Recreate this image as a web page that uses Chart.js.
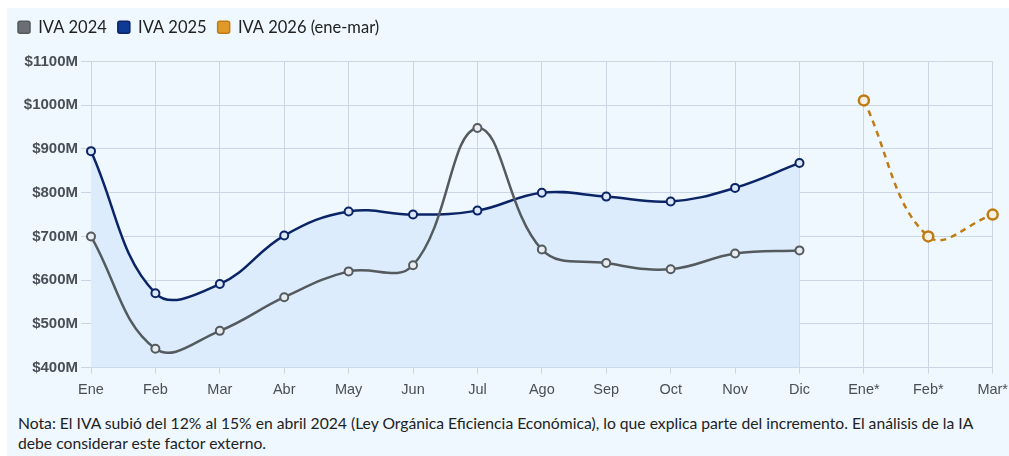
<!DOCTYPE html>
<html>
<head>
<meta charset="utf-8">
<script src="https://cdn.jsdelivr.net/npm/chart.js@4"></script>
<style>
  html, body { margin: 0; padding: 0; background: #ffffff; overflow: hidden; }
  .wrap { position: absolute; left: 7px; top: 8px; width: 1002px; height: 448px; background: #eef8fe; }
  .chart-box { position: absolute; left: 0; top: 0; width: 1009px; height: 399px; }
  .nota { position: absolute; left: 11px; top: 405px; width: 985px; font-family: Lato, "Noto Sans", sans-serif; font-size: 15.7px; line-height: 20px; color: #222; }
</style>
</head>
<body>
<div class="wrap">
  <div class="chart-box"><canvas id="ivaChart"></canvas></div>
  <div class="nota">Nota: El IVA subió del 12% al 15% en abril 2024 (Ley Orgánica Eficiencia Económica), lo que explica parte del incremento. El análisis de la IA debe considerar este factor externo.</div>
</div>
<script>
const months = ['Ene', 'Feb', 'Mar', 'Abr', 'May', 'Jun', 'Jul', 'Ago', 'Sep', 'Oct', 'Nov', 'Dic', 'Ene*', 'Feb*', 'Mar*'];
const iva2024 = [700, 443, 484, 561, 620, 634, 948, 670, 639, 625, 661, 668, null, null, null];
const iva2025 = [895, 570, 591, 702, 757, 750, 759, 800, 791, 780, 811, 868, null, null, null];
const iva2026 = [null, null, null, null, null, null, null, null, null, null, null, null, 1011, 700, 750];
const yTicks = [400, 500, 600, 700, 800, 900, 1000, 1100];

const grayColor = '#555a5e';
const navyColor = '#0b2466';
const orangeColor = '#c07c12';
const gridColor = '#cbd6e4';
const labelColor = '#4a4f55';
const legendBoxes = ['#6b6f73', '#0f3a94', '#e09a2a'];

// adds space between the legend and the plot
const legendMargin = {
    id: 'legendMargin',
    beforeInit: function (chart) {
        const fitValue = chart.legend.fit;
        chart.legend.fit = function fit() {
            fitValue.bind(chart.legend)();
            this.height += 16;
        };
    }
};

const ivaChart = document.getElementById('ivaChart');
if (ivaChart) {
    const ivaChartVar = new Chart(ivaChart, {
        type: 'line',
        plugins: [legendMargin],
        data: {
            labels: months,
            datasets: [
                {
                    label: 'IVA 2024',
                    data: iva2024,
                    borderColor: grayColor,
                    backgroundColor: legendBoxes[0],
                    borderWidth: 2.5,
                    tension: 0.4,
                    pointRadius: 4,
                    pointBorderWidth: 2,
                    pointBackgroundColor: '#e8ecef',
                    pointBorderColor: grayColor,
                    fill: false
                },
                {
                    label: 'IVA 2025',
                    data: iva2025,
                    borderColor: navyColor,
                    backgroundColor: '#dcecfd',
                    borderWidth: 2.5,
                    tension: 0.4,
                    pointRadius: 4,
                    pointBorderWidth: 2,
                    pointBackgroundColor: '#dce8f8',
                    pointBorderColor: navyColor,
                    fill: 'start'
                },
                {
                    label: 'IVA 2026 (ene-mar)',
                    data: iva2026,
                    borderColor: orangeColor,
                    backgroundColor: legendBoxes[2],
                    borderWidth: 2.5,
                    borderDash: [6, 5],
                    tension: 0.4,
                    pointRadius: 5,
                    pointBorderWidth: 2.5,
                    pointBackgroundColor: '#f4f0e6',
                    pointBorderColor: orangeColor,
                    fill: false
                }
            ]
        },
        options: {
            responsive: true,
            maintainAspectRatio: false,
            animation: false,
            layout: {
                padding: { left: 0, right: 0, top: 0, bottom: 0 }
            },
            plugins: {
                filler: { drawTime: 'beforeDatasetsDraw' },
                legend: {
                    display: true,
                    align: 'start',
                    labels: {
                        color: '#222',
                        boxWidth: 12,
                        boxHeight: 12,
                        padding: 11,
                        font: { family: 'Lato, "Noto Sans", sans-serif', size: 16.5 },
                        generateLabels: function (chart) {
                            return chart.data.datasets.map(function (ds, i) {
                                return {
                                    text: ds.label,
                                    fillStyle: legendBoxes[i],
                                    strokeStyle: ds.borderColor,
                                    lineWidth: 1.5,
                                    borderRadius: 2,
                                    fontColor: '#222',
                                    datasetIndex: i
                                };
                            });
                        }
                    }
                },
                tooltip: { enabled: false }
            },
            scales: {
                x: {
                    offset: false,
                    grid: { color: gridColor, drawTicks: true, tickLength: 6 },
                    border: { color: gridColor },
                    ticks: {
                        color: labelColor,
                        maxRotation: 0,
                        autoSkip: false,
                        padding: 8,
                        font: { family: '"Liberation Sans", Arial, sans-serif', size: 14.5 }
                    }
                },
                y: {
                    min: 400,
                    max: 1100,
                    grid: { color: gridColor, tickLength: 10 },
                    border: { color: gridColor },
                    afterBuildTicks: function (axis) {
                        axis.ticks = yTicks.map(function (v) { return { value: v }; });
                    },
                    afterFit: function (axis) {
                        axis.width = 84;
                    },
                    ticks: {
                        color: labelColor,
                        padding: 3,
                        font: { family: '"Liberation Sans", Arial, sans-serif', size: 15, weight: 'bold' },
                        callback: function (value) { return '$' + value + 'M'; }
                    }
                }
            }
        }
    });
}
</script>
</body>
</html>
